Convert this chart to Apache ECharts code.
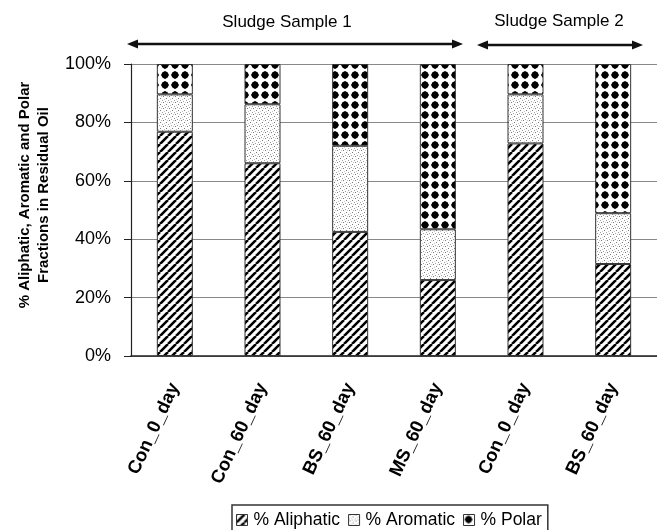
<!DOCTYPE html>
<html>
<head>
<meta charset="utf-8">
<script src="https://cdn.jsdelivr.net/npm/echarts@6/dist/echarts.min.js"></script>
<style>
html,body{margin:0;padding:0;background:#fff;}
#chart{width:657px;height:530px;}
</style>
</head>
<body>
<div id="chart"></div>
<script>
const categories = ['Con_0_day', 'Con_60_day', 'BS_60_day', 'MS_60_day', 'Con_0_day', 'BS_60_day'];
const aliphatic = [76.8, 66.0, 42.5, 26.0, 72.8, 31.5];
const aromatic  = [12.8, 20.2, 29.5, 17.4, 16.8, 17.4];
const polar     = [10.4, 13.8, 28.0, 56.6, 10.4, 51.1];
const yTicks = [0, 20, 40, 60, 80, 100];
const groupLabels = ['Sludge Sample 1', 'Sludge Sample 2'];
const seriesNames = ['% Aliphatic', '% Aromatic', '% Polar'];

function makeCanvas(w, h) {
  const c = document.createElement('canvas');
  c.width = w; c.height = h;
  const g = c.getContext('2d');
  g.fillStyle = '#fff'; g.fillRect(0, 0, w, h);
  return [c, g];
}
function stripePattern() {
  const [c, g] = makeCanvas(8, 8);
  g.strokeStyle = '#000'; g.lineWidth = 2.6;
  for (const k of [-8, 0, 8]) {
    g.beginPath(); g.moveTo(k, 8); g.lineTo(k + 8, 0); g.stroke();
  }
  return c;
}
function speckPattern() {
  const [c, g] = makeCanvas(6, 6);
  g.fillStyle = '#7a7a7a';
  g.fillRect(1, 0, 1, 1);
  g.fillRect(4, 2, 1, 1);
  g.fillStyle = '#a0a0a0';
  g.fillRect(0, 4, 1, 1);
  g.fillRect(3, 5, 1, 1);
  g.fillStyle = '#c8c8c8';
  g.fillRect(2, 3, 1, 1);
  g.fillRect(5, 0, 1, 1);
  return c;
}
function dotPattern() {
  const [c, g] = makeCanvas(10, 10);
  g.fillStyle = '#000';
  g.beginPath(); g.arc(5, 5, 3.4, 0, Math.PI * 2); g.fill();
  g.fillRect(4.4, 1.0, 1.2, 8.0);
  g.fillRect(1.0, 4.4, 8.0, 1.2);
  return c;
}
const patterns = [stripePattern(), speckPattern(), dotPattern()];
const dataSets = [aliphatic, aromatic, polar];

const chart = echarts.init(document.getElementById('chart'), null, {renderer: 'canvas'});
const font = 'Liberation Sans, Arial, sans-serif';

function arrow(x1, x2, y) {
  const h = 4.5, L = 11;
  return [
    {type: 'line', shape: {x1: x1 + 4, y1: y, x2: x2 - 4, y2: y}, style: {stroke: '#111', lineWidth: 2.6}},
    {type: 'polygon', shape: {points: [[x1, y], [x1 + L, y - h], [x1 + L, y + h]]}, style: {fill: '#111'}},
    {type: 'polygon', shape: {points: [[x2, y], [x2 - L, y - h], [x2 - L, y + h]]}, style: {fill: '#111'}}
  ];
}

chart.setOption({
  animation: false,
  backgroundColor: '#fff',
  grid: {left: 131, top: 64, width: 528, height: 292, containLabel: false},
  xAxis: {
    type: 'category',
    data: categories,
    axisLine: {lineStyle: {color: '#222', width: 1.5}},
    axisTick: {show: false},
    axisLabel: {rotate: 65, margin: 28, fontFamily: font, fontWeight: 'bold', fontSize: 18.5, color: '#000', interval: 0}
  },
  yAxis: {
    type: 'value',
    min: 0, max: 100, interval: 20,
    axisLine: {show: true, lineStyle: {color: '#222', width: 1.2}},
    axisTick: {show: true, length: 7, lineStyle: {color: '#222'}},
    splitLine: {lineStyle: {color: '#888', width: 1}},
    axisLabel: {formatter: v => yTicks.includes(v) ? v + '%' : '', fontFamily: font, fontSize: 18, color: '#000', margin: 20}
  },
  legend: {
    data: seriesNames,
    left: 232, top: 505,
    itemWidth: 11, itemHeight: 11, itemGap: 8,
    padding: [6, 6, 20, 4],
    borderColor: '#333', borderWidth: 1.5,
    textStyle: {fontFamily: font, fontSize: 17.5, color: '#000', padding: [0, 0, 0, 1]},
    icon: 'rect',
    itemStyle: {borderColor: '#333', borderWidth: 1}
  },
  series: seriesNames.map((name, i) => ({
    name: name,
    type: 'bar',
    stack: 'total',
    barWidth: 36,
    data: dataSets[i],
    itemStyle: {color: {image: patterns[i], repeat: 'repeat'}, borderColor: '#333', borderWidth: 1}
  })),
  graphic: [
    ...arrow(127, 463, 44),
    ...arrow(477, 643, 45),
    {type: 'text', x: 287, y: 22, style: {text: groupLabels[0], font: '17px ' + font, fill: '#000', textAlign: 'center', textVerticalAlign: 'middle'}},
    {type: 'text', x: 559, y: 21, style: {text: groupLabels[1], font: '17px ' + font, fill: '#000', textAlign: 'center', textVerticalAlign: 'middle'}},
    {type: 'text', x: 34, y: 195, rotation: Math.PI / 2,
     style: {text: '% Aliphatic, Aromatic and Polar\nFractions in Residual Oil', font: 'bold 15px ' + font, fill: '#000', textAlign: 'center', textVerticalAlign: 'middle', lineHeight: 19}}
  ]
});
</script>
</body>
</html>
